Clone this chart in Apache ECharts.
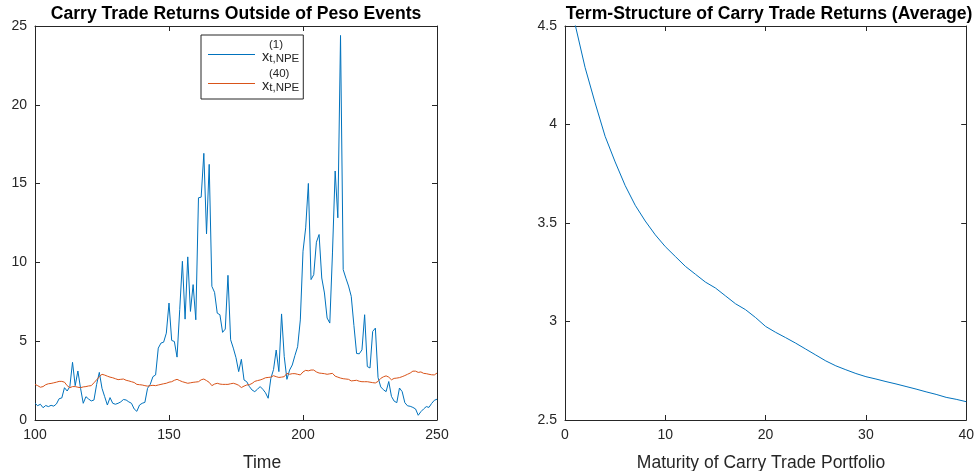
<!DOCTYPE html>
<html>
<head>
<meta charset="utf-8">
<script src="https://cdn.jsdelivr.net/npm/echarts@6/dist/echarts.min.js"></script>
<style>
html,body{margin:0;padding:0;background:#fff;}
#c{width:977px;height:471px;}
</style>
</head>
<body>
<div id="c"></div>
<script>
// ---- data ----
var timeStart = 100;
var seriesNames = ['x1', 'x40'];
var returnsShort = [
 1.06,0.91,1.00,0.78,0.92,0.85,0.93,0.88,1.02,1.35,
 1.40,2.05,1.84,2.12,3.66,2.18,3.11,2.01,1.06,1.48,
 1.33,1.21,1.27,2.26,3.02,2.01,1.48,0.95,1.42,1.06,
 1.00,1.06,1.15,1.30,1.27,1.15,1.06,0.70,0.55,0.95,
 1.06,1.12,2.01,2.26,2.75,2.86,4.56,4.88,4.94,5.51,
 7.42,5.05,4.98,3.99,7.00,10.07,6.40,10.35,6.89,8.59,
 6.36,14.10,14.14,16.92,11.81,16.22,8.48,8.10,6.78,6.68,
 5.56,5.77,9.18,5.09,4.56,3.95,3.07,3.85,2.54,2.43,
 2.12,1.90,1.80,1.95,2.12,1.95,1.73,1.38,2.64,3.20,
 4.44,3.07,6.73,4.02,2.58,3.17,3.49,4.10,4.65,6.35,
 10.71,12.19,15.01,8.91,9.22,11.28,11.77,9.01,8.06,6.47,
 6.15,10.60,15.80,12.83,24.40,9.54,9.00,8.50,7.85,6.00,
 4.22,4.20,4.45,6.68,3.39,3.30,5.62,5.83,2.70,2.10,
 1.92,1.80,2.44,1.50,1.20,1.10,2.03,1.80,1.10,0.90,
 0.87,0.80,0.70,0.30,0.53,0.70,0.85,0.80,1.05,1.25,
 1.32
];
var returnsLong = [
 2.26,2.18,2.08,2.12,2.24,2.30,2.32,2.36,2.40,2.45,
 2.45,2.40,2.18,2.05,2.12,2.12,2.08,2.05,2.10,2.12,
 2.16,2.18,2.36,2.55,2.75,2.90,2.85,2.78,2.72,2.68,
 2.62,2.56,2.58,2.60,2.52,2.48,2.43,2.38,2.26,2.24,
 2.22,2.18,2.15,2.18,2.20,2.18,2.22,2.26,2.30,2.33,
 2.40,2.43,2.52,2.58,2.50,2.43,2.38,2.33,2.36,2.39,
 2.41,2.43,2.55,2.60,2.50,2.39,2.18,2.28,2.33,2.28,
 2.26,2.26,2.26,2.30,2.33,2.28,2.20,2.06,2.15,2.22,
 2.24,2.32,2.45,2.50,2.54,2.60,2.68,2.70,2.72,2.81,
 2.75,2.70,2.72,2.75,2.96,2.90,2.94,2.94,2.90,2.86,
 3.05,3.15,3.12,3.17,3.17,3.05,2.98,2.96,2.94,2.90,
 2.93,2.96,2.78,2.72,2.66,2.62,2.60,2.58,2.48,2.50,
 2.52,2.46,2.43,2.43,2.43,2.40,2.37,2.35,2.45,2.64,
 2.74,2.80,2.72,2.55,2.64,2.66,2.69,2.75,2.82,2.90,
 2.98,3.10,3.10,3.02,3.05,2.96,2.94,2.90,2.87,2.86,
 2.98
];
var maturities = [];
for (var m = 1; m <= 40; m++) maturities.push(m);
var termStructure = [
 4.51,4.29,4.11,3.94,3.81,3.69,3.59,3.51,3.44,3.38,
 3.33,3.28,3.24,3.20,3.17,3.13,3.09,3.06,3.02,2.975,
 2.945,2.918,2.89,2.86,2.83,2.80,2.775,2.755,2.736,2.72,
 2.708,2.695,2.683,2.67,2.657,2.643,2.63,2.615,2.605,2.593
];
var leftXTicks = {min: 100, max: 250, interval: 50};
var leftYTicks = {min: 0, max: 25, interval: 5};
var rightXTicks = {min: 0, max: 40, interval: 10};
var rightYTicks = {min: 2.5, max: 4.5, interval: 0.5};

// ---- build ----
function pairs(xs0, ys) { return ys.map(function (v, i) { return [xs0 + i, v]; }); }
function pairsX(xs, ys) { return ys.map(function (v, i) { return [xs[i], v]; }); }

var FONT = '"Liberation Sans", Arial, Helvetica, sans-serif';
var AX = '#262626';

function axis(pos, gridIndex, t, showLabel) {
  return {
    type: 'value', gridIndex: gridIndex, position: pos,
    min: t.min, max: t.max, interval: t.interval,
    axisLine: {show: true, onZero: false, lineStyle: {color: AX, width: 1}},
    axisTick: {show: true, inside: true, length: 5, lineStyle: {color: AX, width: 1}},
    axisLabel: {show: showLabel, color: AX, fontSize: 14, fontFamily: FONT, margin: 8},
    splitLine: {show: false}
  };
}

var chart = echarts.init(document.getElementById('c'), null, {renderer: 'canvas'});
var titleStyle = {fontSize: 17.6, fontWeight: 'bold', color: '#000', fontFamily: FONT};
var labelStyle = {fontSize: 17.5, fontWeight: 'normal', color: AX, fontFamily: FONT};
var option = {
  animation: false,
  backgroundColor: '#fff',
  textStyle: {fontFamily: FONT},
  title: [
    {text: 'Carry Trade Returns Outside of Peso Events', left: 231, top: 0, textAlign: 'center', textStyle: titleStyle},
    {text: 'Term-Structure of Carry Trade Returns (Average)', left: 764, top: 0, textAlign: 'center', textStyle: titleStyle},
    {text: 'Time', left: 257, top: 449, textAlign: 'center', textStyle: labelStyle},
    {text: 'Maturity of Carry Trade Portfolio', left: 756, top: 449, textAlign: 'center', textStyle: labelStyle}
  ],
  grid: [
    {left: 35, top: 26, width: 402, height: 394, containLabel: false},
    {left: 565, top: 26, width: 402, height: 394, containLabel: false}
  ],
  xAxis: [
    axis('bottom', 0, leftXTicks, true),
    axis('top', 0, leftXTicks, false),
    axis('bottom', 1, rightXTicks, true),
    axis('top', 1, rightXTicks, false)
  ],
  yAxis: [
    axis('left', 0, leftYTicks, true),
    axis('right', 0, leftYTicks, false),
    axis('left', 1, rightYTicks, true),
    axis('right', 1, rightYTicks, false)
  ],
  legend: {
    data: seriesNames,
    left: 201, top: 35,
    orient: 'vertical',
    icon: 'rect',
    itemWidth: 47, itemHeight: 1, itemGap: 3,
    padding: [4, 4, 5, 7],
    borderColor: AX, borderWidth: 1, backgroundColor: '#fff',
    formatter: function (name) {
      var sup = name === 'x1' ? '(1)' : '(40)';
      return '{pad|}{sup|' + sup + '}\n{pad2|}{x|x}{sub|t,NPE}';
    },
    textStyle: {
      color: AX, fontFamily: FONT,
      rich: {
        pad: {width: 9, fontSize: 11, lineHeight: 9},
        pad2: {width: 2, fontSize: 11, lineHeight: 12},
        sup: {fontSize: 11.5, lineHeight: 9, color: AX, fontFamily: FONT},
        x: {fontSize: 14.5, lineHeight: 12, verticalAlign: 'top', color: AX, fontFamily: FONT},
        sub: {fontSize: 11.5, lineHeight: 19, color: AX, fontFamily: FONT}
      }
    }
  },
  series: [
    {name: 'x1', type: 'line', xAxisIndex: 0, yAxisIndex: 0, symbol: 'none',
     lineStyle: {color: '#0072BD', width: 1}, itemStyle: {color: '#0072BD'},
     data: pairs(timeStart, returnsShort)},
    {name: 'x40', type: 'line', xAxisIndex: 0, yAxisIndex: 0, symbol: 'none',
     lineStyle: {color: '#D95319', width: 1}, itemStyle: {color: '#D95319'},
     data: pairs(timeStart, returnsLong)},
    {name: 'term', type: 'line', xAxisIndex: 2, yAxisIndex: 2, symbol: 'none', clip: true,
     lineStyle: {color: '#0072BD', width: 1}, itemStyle: {color: '#0072BD'},
     data: pairsX(maturities, termStructure)}
  ]
};
chart.setOption(option);
</script>
</body>
</html>
